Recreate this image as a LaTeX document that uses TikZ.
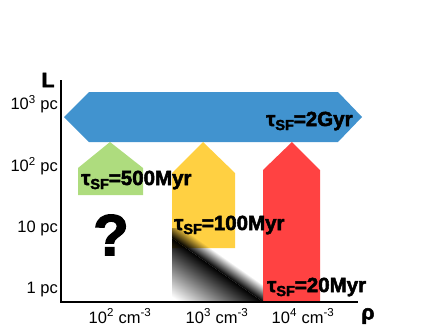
\documentclass[tikz,border=0pt]{standalone}
\usepackage{fontspec}
\setmainfont{Liberation Sans}
\newfontfamily\heavyfont{Liberation Sans}[FakeBold=2.4]
\usetikzlibrary{fadings}
\definecolor{barblue}{HTML}{4193CF}
\definecolor{bargreen}{HTML}{AEDC7E}
\definecolor{baryellow}{HTML}{FFD042}
\definecolor{barred}{HTML}{FF4242}
\tikzfading[name=fadeup, top color=transparent!100, bottom color=transparent!0]
\tikzfading[name=fadedown, top color=transparent!0, bottom color=transparent!100]
\newcommand{\tausf}[1]{τ\raisebox{-4pt}{\fontsize{14.5}{14.5}\selectfont SF}=#1}
\begin{document}
\begin{tikzpicture}[x=1pt, y=-1pt,
    tick/.style={font=\fontsize{16.5}{16.5}\selectfont, anchor=east, inner sep=1pt},
    dens/.style={font=\fontsize{16.5}{16.5}\selectfont, inner sep=1pt},
    tau/.style={font=\heavyfont\bfseries\fontsize{20.5}{20.5}\selectfont, anchor=west, inner sep=0pt},
    axlbl/.style={font=\heavyfont\bfseries\fontsize{21}{21}\selectfont, inner sep=0pt},
  ]
  \useasboundingbox (0,0) rectangle (447,335);
  % time scale bars
  \fill[barblue] (64,117) -- (89,92) -- (338,92) -- (362,117) -- (338,142) -- (89,142) -- cycle;
  \fill[bargreen] (110,142) -- (143,168) -- (143,195) -- (78,195) -- (78,168) -- cycle;
  \fill[baryellow] (203,142) -- (235,173) -- (235,248) -- (172,248) -- (172,173) -- cycle;
  \fill[barred] (292,142) -- (320,170) -- (320,302) -- (263,302) -- (263,170) -- cycle;
  % shaded band
  \begin{scope}
    \clip (172,228) rectangle (263,302);
    \begin{scope}[transform canvas={rotate around={-35:(217.5,270)}}]
      \fill[black, path fading=fadeup] (120,256) rectangle (315,270);
      \fill[black, path fading=fadedown] (120,270) rectangle (315,318);
    \end{scope}
  \end{scope}
  % axes
  \coordinate (ytop) at (61,80);
  \coordinate (origin) at (61,302);
  \coordinate (xend) at (358,302);
  \draw[line width=2pt] (ytop) -- (origin) -- (xend);
  \node[axlbl] (lax) at (48,80) {L};
  \node[axlbl] (rhoax) at (368,316) {ρ};
  \foreach \nm/\lbl/\yy in {t3/10\textsuperscript{3} pc/104, t2/10\textsuperscript{2} pc/166, t1/10 pc/228, t0/1 pc/290} {
    \node[tick] (\nm) at (59,\yy) {\lbl};
  }
  \foreach \nm/\ex/\xx in {d2/2/120, d3/3/217, d4/4/303} {
    \node[dens] (\nm) at (\xx,316) {10\textsuperscript{\ex} cm\textsuperscript{-3}};
  }
  % labels
  \node[tau] (tblue) at (266,121) {\tausf{2Gyr}};
  \node[tau] (tgreen) at (81,180) {\tausf{500Myr}};
  \node[tau] (tyellow) at (174,225) {\tausf{100Myr}};
  \node[tau] (tred) at (267,287) {\tausf{20Myr}};
  \node[font=\heavyfont\bfseries\fontsize{58}{58}\selectfont, inner sep=0pt] (qmark) at (111,235) {?};
\end{tikzpicture}
\end{document}
